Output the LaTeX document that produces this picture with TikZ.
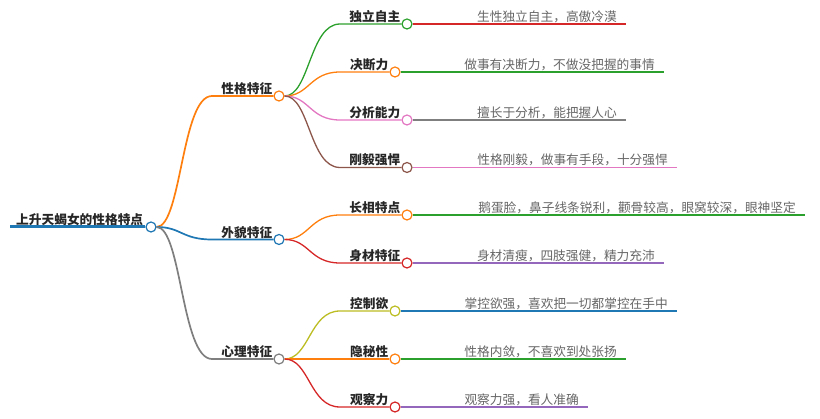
\documentclass[tikz,border=0pt]{standalone}
\usepackage{fontspec}
\setmainfont{Noto Sans CJK SC}
\usetikzlibrary{positioning}
\definecolor{tblue}{HTML}{1F77B4}
\definecolor{torange}{HTML}{FF7F0E}
\definecolor{tgray}{HTML}{7F7F7F}
\definecolor{tgreen}{HTML}{2CA02C}
\definecolor{tpink}{HTML}{E377C2}
\definecolor{tbrown}{HTML}{8C564B}
\definecolor{tred}{HTML}{D62728}
\definecolor{tpurple}{HTML}{9467BD}
\definecolor{tolive}{HTML}{BCBD22}
\tikzset{
    x=1pt, y=-1pt, % one unit is one pixel of the reference
    dot/.style={circle, draw=#1, line width=1.2pt, fill=white, minimum size=10pt, inner sep=0pt}, % round knob at the end of a branch
    label/.style={inner sep=0pt, font=\fontsize{12.7}{14}\selectfont\bfseries, text=black!85},
    leaf/.style={inner sep=0pt, font=\fontsize{12.7}{14}\selectfont, text=black!60},
    trunk/.style={line width=1.7pt},
    twig/.style={line width=1.3pt},
}

\begin{document}
\begin{tikzpicture}
    \useasboundingbox (0,0) rectangle (820,419);

    % first level
    \coordinate (start) at (10,227);
    \node[dot=tblue] (root) at (151,227) {};
    \node[label, above left=1pt and 2pt of root.west] (rootlabel) {上升天蝎女的性格特点};
    \draw[tblue, line width=3pt] (start) -- (root);

    % second level
    \node[dot=torange] (trait) at (279,96) {};
    \node[dot=tblue] (looks) at (279,239.5) {};
    \node[dot=tgray] (mind) at (279,359) {};
    \node[label, above left=1pt and 1pt of trait.west] (traitlabel) {性格特征};
    \node[label, above left=1pt and 1pt of looks.west] (lookslabel) {外貌特征};
    \node[label, above left=1pt and 1pt of mind.west] (mindlabel) {心理特征};
    \coordinate (traitin) at (212,96);
    \coordinate (looksin) at (212,239.5);
    \coordinate (mindin) at (212,359);
    \draw[torange, trunk] (root) .. controls (181.5,227) and (181.5,96) .. (traitin) -- (trait);
    \draw[tblue, trunk] (root) .. controls (181.5,227) and (181.5,239.5) .. (looksin) -- (looks);
    \draw[tgray, trunk] (root) .. controls (181.5,227) and (181.5,359) .. (mindin) -- (mind);

    % third level
    \node[dot=tgreen] (indep) at (407,24) {};
    \node[dot=torange] (decide) at (395,72) {};
    \node[dot=tpink] (analyse) at (407,120) {};
    \node[dot=tbrown] (tough) at (407,167.5) {};
    \node[dot=torange] (face) at (407,215) {};
    \node[dot=tred] (body) at (407,263) {};
    \node[dot=tolive] (control) at (395,311) {};
    \node[dot=torange] (secret) at (395,359) {};
    \node[dot=tred] (watch) at (395,407) {};
    \node[label, above left=1pt and 1pt of indep.west] (indeplabel) {独立自主};
    \node[label, above left=1pt and 1pt of decide.west] (decidelabel) {决断力};
    \node[label, above left=1pt and 1pt of analyse.west] (analyselabel) {分析能力};
    \node[label, above left=1pt and 1pt of tough.west] (toughlabel) {刚毅强悍};
    \node[label, above left=1pt and 1pt of face.west] (facelabel) {长相特点};
    \node[label, above left=1pt and 1pt of body.west] (bodylabel) {身材特征};
    \node[label, above left=1pt and 1pt of control.west] (controllabel) {控制欲};
    \node[label, above left=1pt and 1pt of secret.west] (secretlabel) {隐秘性};
    \node[label, above left=1pt and 1pt of watch.west] (watchlabel) {观察力};
    \coordinate (indepin) at (340,24);
    \coordinate (decidein) at (340,72);
    \coordinate (analysein) at (340,120);
    \coordinate (toughin) at (340,167.5);
    \coordinate (facein) at (340,215);
    \coordinate (bodyin) at (340,263);
    \coordinate (controlin) at (340,311);
    \coordinate (secretin) at (340,359);
    \coordinate (watchin) at (340,407);
    \draw[tgreen, twig] (trait) .. controls (309.5,96) and (309.5,24) .. (indepin) -- (indep);
    \draw[torange, twig] (trait) .. controls (309.5,96) and (309.5,72) .. (decidein) -- (decide);
    \draw[tpink, twig] (trait) .. controls (309.5,96) and (309.5,120) .. (analysein) -- (analyse);
    \draw[tbrown, twig] (trait) .. controls (309.5,96) and (309.5,167.5) .. (toughin) -- (tough);
    \draw[torange, twig] (looks) .. controls (309.5,239.5) and (309.5,215) .. (facein) -- (face);
    \draw[tred, twig] (looks) .. controls (309.5,239.5) and (309.5,263) .. (bodyin) -- (body);
    \draw[tolive, twig] (mind) .. controls (309.5,359) and (309.5,311) .. (controlin) -- (control);
    \draw[torange, twig] (mind) -- (secretin) -- (secret);
    \draw[tred, twig] (mind) .. controls (309.5,359) and (309.5,407) .. (watchin) -- (watch);

    % leaves
    \coordinate (independ) at (626,24);
    \coordinate (decideend) at (664,72);
    \coordinate (analyseend) at (626,120);
    \coordinate (toughend) at (677,167.5);
    \coordinate (faceend) at (805,215);
    \coordinate (bodyend) at (664,263);
    \coordinate (controlend) at (677,311);
    \coordinate (secretend) at (626,359);
    \coordinate (watchend) at (588,407);
    \draw[tred, twig] (indep) -- (independ);
    \draw[tgreen, twig] (decide) -- (decideend);
    \draw[tgray, twig] (analyse) -- (analyseend);
    \draw[tpink, twig] (tough) -- (toughend);
    \draw[tgreen, twig] (face) -- (faceend);
    \draw[tpurple, twig] (body) -- (bodyend);
    \draw[tblue, twig] (control) -- (controlend);
    \draw[tgreen, twig] (secret) -- (secretend);
    \draw[tpurple, twig] (watch) -- (watchend);
    \node[leaf, above left=1pt and 9pt of independ] (indepleaf) {生性独立自主，高傲冷漠};
    \node[leaf, above left=1pt and 9pt of decideend] (decideleaf) {做事有决断力，不做没把握的事情};
    \node[leaf, above left=1pt and 9pt of analyseend] (analyseleaf) {擅长于分析，能把握人心};
    \node[leaf, above left=1pt and 9pt of toughend] (toughleaf) {性格刚毅，做事有手段，十分强悍};
    \node[leaf, above left=1pt and 9pt of faceend] (faceleaf) {鹅蛋脸，鼻子线条锐利，颧骨较高，眼窝较深，眼神坚定};
    \node[leaf, above left=1pt and 9pt of bodyend] (bodyleaf) {身材清瘦，四肢强健，精力充沛};
    \node[leaf, above left=1pt and 9pt of controlend] (controlleaf) {掌控欲强，喜欢把一切都掌控在手中};
    \node[leaf, above left=1pt and 9pt of secretend] (secretleaf) {性格内敛，不喜欢到处张扬};
    \node[leaf, above left=1pt and 9pt of watchend] (watchleaf) {观察力强，看人准确};
\end{tikzpicture}
\end{document}
